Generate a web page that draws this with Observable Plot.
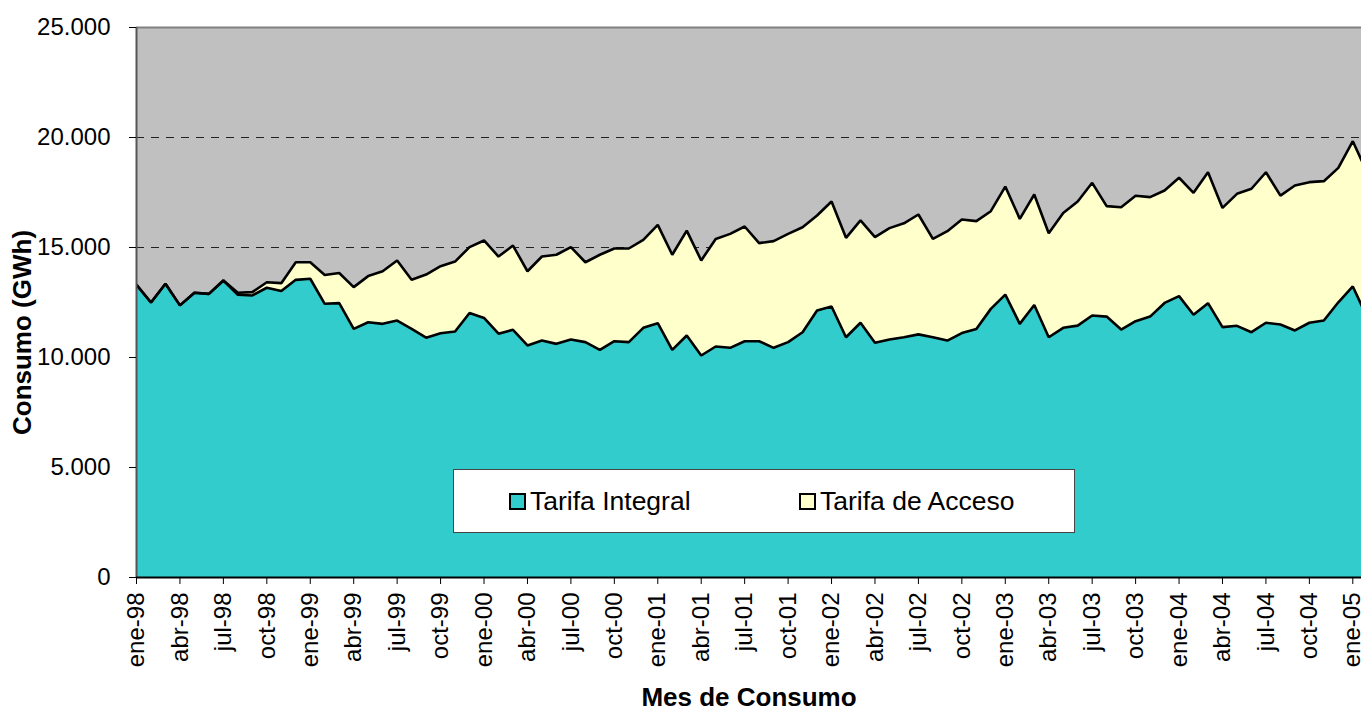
<!DOCTYPE html>
<html>
<head>
<meta charset="utf-8">
<script src="https://cdn.jsdelivr.net/npm/d3@7"></script>
<script src="https://cdn.jsdelivr.net/npm/@observablehq/plot@0.6"></script>
<style>
  body { margin: 0; background: #fff; }
  #wrap { position: relative; width: 1361px; height: 711px; font-family: "Liberation Sans", Arial, sans-serif; }
  #legend { position: absolute; left: 453px; top: 469px; width: 620px; height: 62px; background: #fff; border: 1px solid #444; box-sizing: content-box; }
  .item { position: absolute; top: 0; height: 62px; display: flex; align-items: center; font-size: 26.5px; color: #000; }
  .sw { width: 13px; height: 13px; border: 2px solid #000; margin-right: 4px; }
</style>
</head>
<body>
<div id="wrap"></div>
<script>
// Months (ene-98 .. feb-05)
const monthNames = ["ene","feb","mar","abr","may","jun","jul","ago","sep","oct","nov","dic"];
const startYear = 1998;
const seriesNames = ["Tarifa Integral", "Tarifa de Acceso"];
const seriesColors = ["#33CCCC", "#FFFFCC"];

// GWh per month, Tarifa Integral
const tarifaIntegral = [
  13300,12500,13350,12370,12940,12890,13500,12850,12820,13170,13020,13530,
  13580,12440,12470,11300,11600,11530,11680,11300,10900,11100,11180,12020,
  11800,11080,11260,10550,10770,10620,10820,10700,10350,10740,10700,11350,
  11560,10350,11000,10090,10500,10440,10740,10740,10440,10700,11150,12140,
  12320,10920,11580,10670,10820,10920,11050,10920,10770,11110,11300,12210,
  12860,11530,12390,10920,11350,11450,11910,11860,11270,11650,11860,12480,
  12790,11940,12470,11380,11440,11150,11580,11500,11230,11580,11680,12510,
  13230,11800
];
// GWh per month, Tarifa de Acceso
const tarifaAcceso = [
  0,0,0,0,0,0,0,90,150,250,360,800,
  750,1310,1370,1900,2100,2390,2730,2230,2870,3050,3180,3000,
  3520,3510,3830,3370,3820,4050,4200,3630,4320,4215,4255,4000,
  4470,4320,4770,4320,4890,5180,5215,4460,4850,4920,4770,4315,
  4770,4520,4650,4800,5060,5180,5450,4470,4970,5160,4900,4440,
  4910,4770,5020,4730,5220,5640,6030,5020,5560,5700,5430,5110,
  5380,5545,5950,5420,6000,6520,6840,5860,6590,6390,6335,6110,
  6600,6590
];
const yTicks = [0, 5000, 10000, 15000, 20000, 25000];
const xTickMonths = d3.range(0, 85, 3);

const label = i => monthNames[i % 12] + "-" + String((startYear + Math.floor(i / 12)) % 100).padStart(2, "0");
const fmt = d => d === 0 ? "0" : d3.format(",")(d).replace(/,/g, ".");

const data = [
  ...tarifaIntegral.map((v, i) => ({i, serie: seriesNames[0], v})),
  ...tarifaAcceso.map((v, i) => ({i, serie: seriesNames[1], v}))
];

const chart = Plot.plot({
  width: 1361,
  height: 711,
  marginLeft: 136,
  marginRight: 0,
  marginTop: 27,
  marginBottom: 134,
  style: {fontFamily: "'Liberation Sans', Arial, sans-serif", fontSize: "24px", color: "#000", background: "transparent"},
  x: {type: "linear", domain: [0, 84.6]},
  y: {domain: [0, 25000]},
  color: {domain: seriesNames, range: seriesColors},
  marks: [
    Plot.frame({fill: "#C0C0C0", stroke: null}),
    Plot.ruleY([5000, 10000, 15000, 20000], {stroke: "#222", strokeDasharray: "8,7", strokeWidth: 1}),
    Plot.ruleY([25000], {stroke: "#808080", strokeWidth: 2}),
    Plot.areaY(data, {x: "i", y: "v", z: "serie", fill: "serie", clip: true}),
    Plot.lineY(data, Plot.stackY2({x: "i", y: "v", z: "serie", stroke: "#000", strokeWidth: 2.6, strokeLinejoin: "miter", clip: true})),
    Plot.ruleX([0], {stroke: "#555", strokeWidth: 2}),
    Plot.ruleY([0], {stroke: "#000", strokeWidth: 2}),
    Plot.axisY({ticks: yTicks, tickFormat: fmt, tickSize: 7, tickPadding: 19, label: null}),
    Plot.axisX({ticks: xTickMonths, tickFormat: label, tickSize: 7, tickPadding: 8, tickRotate: -90, label: null}),
    Plot.text(["Mes de Consumo"], {frameAnchor: "bottom", dy: 128, fontWeight: "bold", fontSize: 26, textAnchor: "middle"}),
    Plot.text(["Consumo (GWh)"], {frameAnchor: "left", dx: -114, dy: 30, rotate: -90, fontWeight: "bold", fontSize: 26, textAnchor: "middle"})
  ]
});

const wrap = document.getElementById("wrap");
wrap.appendChild(chart);
const legend = document.createElement("div");
legend.id = "legend";
const lefts = [55, 345];
seriesNames.forEach((name, k) => {
  const it = document.createElement("div");
  it.className = "item";
  it.style.left = lefts[k] + "px";
  const sw = document.createElement("div");
  sw.className = "sw";
  sw.style.background = seriesColors[k];
  const tx = document.createElement("span");
  tx.textContent = name;
  it.appendChild(sw);
  it.appendChild(tx);
  legend.appendChild(it);
});
wrap.appendChild(legend);
</script>
</body>
</html>
